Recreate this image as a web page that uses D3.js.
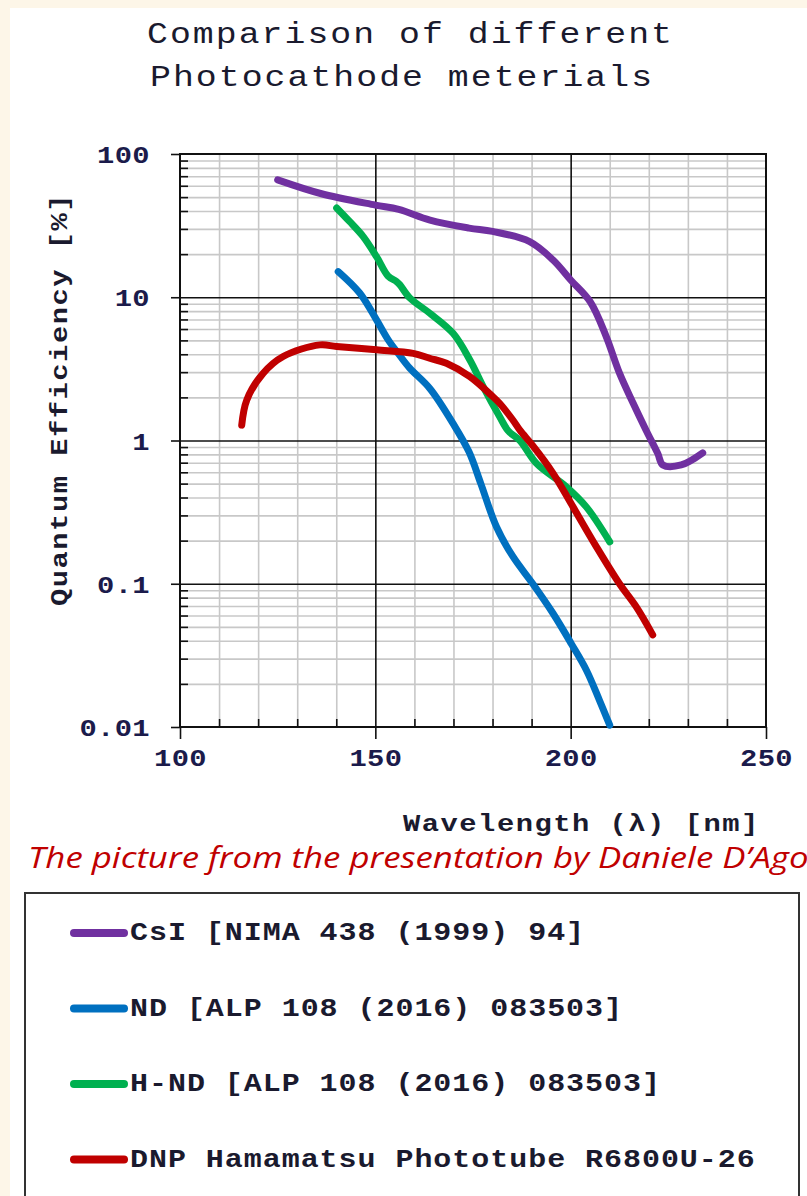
<!DOCTYPE html>
<html>
<head>
<meta charset="utf-8">
<script src="https://cdn.jsdelivr.net/npm/d3@7"></script>
<style>
  html, body { margin: 0; padding: 0; background: #fdf6e8; }
  svg { display: block; }
  .mono { font-family: "Liberation Mono", "DejaVu Sans Mono", monospace; }
</style>
</head>
<body>
<div id="chart"></div>
<script>
// data: wavelength [nm] and quantum efficiency [%]
var csiWave = [125, 136, 150, 156, 164, 174, 180, 189.5, 195.5, 200, 205, 209, 212.5, 216, 219.3, 222.3, 223.6, 228.3, 233.8];
var csiQE   = [66, 53, 44, 41, 34.5, 30.4, 28.8, 24.5, 18.2, 13.2, 9.3, 5.4, 2.95, 1.82, 1.18, 0.81, 0.675, 0.675, 0.82];

var ndWave = [140.5, 146, 150.3, 153.3, 156, 158.8, 164, 170, 174, 177, 181, 185.2, 190.3, 195.5, 200.2, 204, 207.4, 210];
var ndQE   = [15.1, 10.7, 6.95, 5.04, 4.0, 3.2, 2.3, 1.3, 0.83, 0.5, 0.25, 0.155, 0.1, 0.062, 0.038, 0.025, 0.0153, 0.0103];

var hndWave = [140.1, 143.4, 146.9, 150.3, 153.3, 155.4, 156.3, 158.8, 163.9, 169.9, 174.2, 177.6, 181.8, 184, 187, 191.3, 198.9, 204, 210];
var hndQE   = [42, 33.8, 26.5, 19.2, 14, 12.9, 12.2, 9.9, 7.75, 5.6, 3.65, 2.38, 1.47, 1.17, 1.0, 0.69, 0.475, 0.344, 0.196];

var dnpWave = [115.8, 117.1, 121.3, 126.4, 135.8, 140.1, 150.3, 159.7, 163.9, 168.2, 174.2, 180.1, 181.8, 185.2, 187, 190.3, 195.5, 200.6, 206.6, 212.5, 216.8, 221];
var dnpQE   = [1.28, 1.92, 2.95, 3.86, 4.65, 4.53, 4.3, 4.06, 3.75, 3.46, 2.79, 2.02, 1.82, 1.39, 1.18, 0.92, 0.59, 0.344, 0.181, 0.1, 0.069, 0.044];

var seriesNames  = ["CsI [NIMA 438 (1999) 94]", "ND [ALP 108 (2016) 083503]", "H-ND [ALP 108 (2016) 083503]", "DNP Hamamatsu Phototube R6800U-26"];
var seriesColors = ["#7030a0", "#0070c0", "#00b050", "#c00000"];

var xMajor = [100, 150, 200, 250];
var yMajor = [0.01, 0.1, 1, 10, 100];
var yLabels = ["0.01", "0.1", "1", "10", "100"];

var titleLines = ["Comparison of different", "Photocathode meterials"];
var xTitle = "Wavelength (\u03bb) [nm]";
var yTitle = "Quantum Efficiency [%]";
var caption = "The picture from the presentation by Daniele D\u2019Ago";

var series = [
  { name: seriesNames[0], color: seriesColors[0], wave: csiWave, qe: csiQE },
  { name: seriesNames[1], color: seriesColors[1], wave: ndWave, qe: ndQE },
  { name: seriesNames[2], color: seriesColors[2], wave: hndWave, qe: hndQE },
  { name: seriesNames[3], color: seriesColors[3], wave: dnpWave, qe: dnpQE }
];

var W = 807, H = 1196;
var SX = 1.2; // the original picture is stretched sideways, so text glyphs are too

var svg = d3.select('#chart').append('svg').attr('width', W).attr('height', H);

// cream page, white panel
svg.append('rect').attr('width', W).attr('height', H).attr('fill', '#fdf6e8');
svg.append('rect').attr('x', 10).attr('y', 8).attr('width', W - 10).attr('height', H - 8).attr('fill', '#fff');

// stretched text helper
function stretched(sel, px, py, extra) {
  sel.attr('x', 0).attr('y', 0)
    .attr('transform', 'translate(' + px + ',' + py + ')' + (extra || '') + ' scale(' + SX + ',1)');
}

// title
svg.append('g').selectAll('text').data(titleLines).join('text')
  .attr('class', 'mono')
  .attr('font-size', 29)
  .attr('letter-spacing', 1.7)
  .attr('fill', '#1a1a2e')
  .text(function (d) { return d; })
  .each(function (d, i) { stretched(d3.select(this), i === 0 ? 147 : 150, 43 + i * 43); });

// scales
var plotL = 180, plotR = 766, plotT = 154, plotB = 727;
var x = d3.scaleLinear().domain([100, 250]).range([plotL, plotR]);
var y = d3.scaleLog().domain([0.01, 100]).range([plotB, plotT]);

var xMinor = d3.range(110, 250, 10).filter(function (v) { return v !== 150 && v !== 200; });
var yMinor = [];
[0.01, 0.1, 1, 10].forEach(function (dec) {
  for (var k = 2; k <= 9; k++) yMinor.push(dec * k);
});

var g = svg.append('g');

function styleGrid(sel, color) {
  sel.select('.domain').remove();
  sel.selectAll('line').attr('stroke', color).attr('stroke-width', 1.6);
}

// minor grid
g.append('g').attr('transform', 'translate(0,' + plotB + ')')
  .call(d3.axisBottom(x).tickValues(xMinor).tickSize(-(plotB - plotT)).tickFormat(''))
  .call(styleGrid, '#c8c8c8');
g.append('g').attr('transform', 'translate(' + plotL + ',0)')
  .call(d3.axisLeft(y).tickValues(yMinor).tickSize(-(plotR - plotL)).tickFormat(''))
  .call(styleGrid, '#c8c8c8');

// major grid
g.append('g').attr('transform', 'translate(0,' + plotB + ')')
  .call(d3.axisBottom(x).tickValues([150, 200]).tickSize(-(plotB - plotT)).tickFormat(''))
  .call(styleGrid, '#111');
g.append('g').attr('transform', 'translate(' + plotL + ',0)')
  .call(d3.axisLeft(y).tickValues([0.1, 1, 10]).tickSize(-(plotR - plotL)).tickFormat(''))
  .call(styleGrid, '#111');

// frame
g.append('rect').attr('x', plotL).attr('y', plotT).attr('width', plotR - plotL).attr('height', plotB - plotT)
  .attr('fill', 'none').attr('stroke', '#111').attr('stroke-width', 2);

// minor ticks pointing inward
g.append('g').attr('transform', 'translate(' + plotL + ',0)')
  .call(d3.axisRight(y).tickValues(yMinor).tickSize(8).tickFormat(''))
  .call(styleGrid, '#111');
g.append('g').attr('transform', 'translate(0,' + plotB + ')')
  .call(d3.axisTop(x).tickValues(xMinor).tickSize(8).tickFormat(''))
  .call(styleGrid, '#111');

function stretchTickText(sel) {
  sel.selectAll('text')
    .attr('class', 'mono').attr('font-size', 24).attr('font-weight', 'bold')
    .attr('letter-spacing', 0.3).attr('fill', '#1b1b4b')
    .attr('x', function () { return (+this.getAttribute('x') || 0) / SX; })
    .attr('transform', 'scale(' + SX + ',1)');
}

// major ticks with labels
var yAxis = g.append('g').attr('transform', 'translate(' + plotL + ',0)')
  .call(d3.axisLeft(y).tickValues(yMajor).tickSize(9).tickPadding(21)
    .tickFormat(function (d, i) { return yLabels[i]; }));
yAxis.call(styleGrid, '#111');
yAxis.call(stretchTickText);
yAxis.selectAll('text').attr('dy', '0.36em');

var xAxis = g.append('g').attr('transform', 'translate(0,' + plotB + ')')
  .call(d3.axisBottom(x).tickValues(xMajor).tickSize(12).tickPadding(10).tickFormat(d3.format('d')));
xAxis.call(styleGrid, '#111');
xAxis.call(stretchTickText);

// axis titles
svg.append('text').attr('class', 'mono')
  .attr('font-size', 24).attr('font-weight', 'bold').attr('letter-spacing', 1.25)
  .attr('fill', '#1a1a2e').text(yTitle)
  .call(stretched, 67, 606, ' rotate(-90)');
svg.append('text').attr('class', 'mono')
  .attr('font-size', 24).attr('font-weight', 'bold').attr('letter-spacing', 1.25)
  .attr('fill', '#1a1a2e').text(xTitle)
  .call(stretched, 403, 831);

// curves
var line = d3.line()
  .x(function (d) { return x(d[0]); })
  .y(function (d) { return y(d[1]); })
  .curve(d3.curveCatmullRom.alpha(0.5));

g.append('g').selectAll('path').data(series).join('path')
  .attr('d', function (s) { return line(d3.zip(s.wave, s.qe)); })
  .attr('fill', 'none')
  .attr('stroke', function (s) { return s.color; })
  .attr('stroke-width', 7)
  .attr('stroke-linecap', 'round')
  .attr('stroke-linejoin', 'round');

// caption
svg.append('text')
  .attr('font-family', '"Open Sans", sans-serif').attr('font-style', 'italic')
  .attr('font-size', 29).attr('fill', '#c00000')
  .text(caption)
  .call(stretched, 28, 868);

// legend
svg.append('rect').attr('x', 25).attr('y', 893).attr('width', 774).attr('height', 330)
  .attr('fill', '#fff').attr('stroke', '#333').attr('stroke-width', 2);

var leg = svg.append('g').selectAll('g').data(series).join('g')
  .attr('transform', function (d, i) { return 'translate(0,' + (933 + i * 75.5) + ')'; });
leg.append('line')
  .attr('x1', 74).attr('x2', 124)
  .attr('stroke', function (d) { return d.color; })
  .attr('stroke-width', 8).attr('stroke-linecap', 'round');
leg.append('text').attr('class', 'mono')
  .attr('font-size', 25).attr('font-weight', 'bold').attr('letter-spacing', 0.8)
  .attr('fill', '#1a1a2e')
  .text(function (d) { return d.name; })
  .call(stretched, 130, 7);
</script>
</body>
</html>
